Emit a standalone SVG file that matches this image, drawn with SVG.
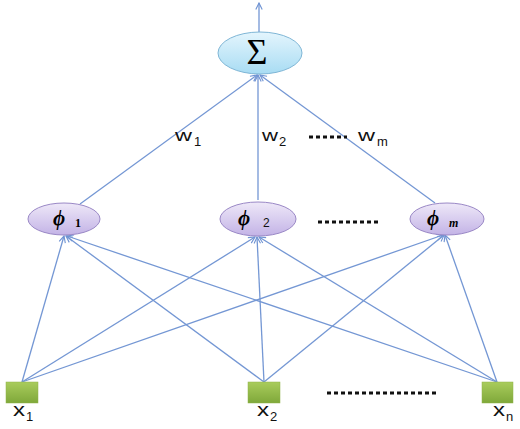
<svg xmlns="http://www.w3.org/2000/svg" width="520" height="429" viewBox="0 0 520 429">
<defs>
<linearGradient id="gSig" x1="0" y1="0" x2="0" y2="1">
<stop offset="0" stop-color="#e4f5fd"/><stop offset="1" stop-color="#a8dcf3"/>
</linearGradient>
<linearGradient id="gPhi" x1="0" y1="0" x2="0" y2="1">
<stop offset="0" stop-color="#eee8f8"/><stop offset="1" stop-color="#c3b3e6"/>
</linearGradient>
<linearGradient id="gBox" x1="0" y1="0" x2="0" y2="1">
<stop offset="0" stop-color="#a9cc5c"/><stop offset="1" stop-color="#7fa83a"/>
</linearGradient>
<marker id="arr" viewBox="0 0 10 10" refX="9" refY="5" markerWidth="8" markerHeight="8" orient="auto" markerUnits="userSpaceOnUse">
<path d="M1,1 L9,5 L1,9" fill="none" stroke="#6f93d3" stroke-width="1.4"/>
</marker>
<style>
.ln{stroke:#7497d4;stroke-width:1.3;fill:none;marker-end:url(#arr)}
.sig{fill:url(#gSig);stroke:#7fb6d6;stroke-width:1}
.phi{fill:url(#gPhi);stroke:#9a88c6;stroke-width:1}
.box{fill:url(#gBox);stroke:#8fb24a;stroke-width:0.5}
.t{font-family:"Liberation Sans",Arial,sans-serif;fill:#111}
.s{font-family:"Liberation Serif","DejaVu Serif",serif;fill:#000;font-size:12px;font-weight:bold}
.ph{font-family:"Liberation Serif","DejaVu Serif",serif;font-style:italic;font-weight:bold;font-size:21px;fill:#000}
.dots{stroke:#111;stroke-width:3;stroke-dasharray:4 3;fill:none}
</style>
</defs>
<g id="connectors">
<line class="ln" x1="259" y1="32" x2="259" y2="3"/>
<line class="ln" x1="80" y1="204" x2="257" y2="75"/>
<line class="ln" x1="258" y1="200" x2="258" y2="75"/>
<line class="ln" x1="435" y1="203" x2="260" y2="75"/>
<line class="ln" x1="22" y1="382" x2="64" y2="236"/>
<line class="ln" x1="22" y1="382" x2="255" y2="237"/>
<line class="ln" x1="22" y1="382" x2="443" y2="235"/>
<line class="ln" x1="264" y1="382" x2="66" y2="236"/>
<line class="ln" x1="264" y1="382" x2="257" y2="237"/>
<line class="ln" x1="264" y1="382" x2="444" y2="235"/>
<line class="ln" x1="497" y1="382" x2="67" y2="236"/>
<line class="ln" x1="497" y1="382" x2="259" y2="237"/>
<line class="ln" x1="497" y1="382" x2="445" y2="235"/>
</g>
<g id="sum">
<ellipse class="sig" cx="260" cy="53" rx="42" ry="21"/>
<text x="257" y="64" text-anchor="middle" font-family="Liberation Serif,serif" font-size="36" fill="#000">Σ</text>
</g>
<g id="phi1">
<ellipse class="phi" cx="64" cy="219" rx="36" ry="16"/>
<text class="ph" x="53" y="225">ϕ</text>
<text class="s" x="75" y="227">1</text>
</g>
<g id="phi2">
<ellipse class="phi" cx="258" cy="219" rx="38" ry="17"/>
<text class="ph" x="238" y="225">ϕ</text>
<text class="t" x="263" y="227" font-size="12" fill="#222">2</text>
</g>
<g id="phim">
<ellipse class="phi" cx="447" cy="219" rx="37" ry="16"/>
<text class="ph" x="427" y="225">ϕ</text>
<text class="s" x="449" y="227" font-style="italic">m</text>
</g>
<g id="x1">
<rect class="box" x="6" y="382" width="32" height="21"/>
<text class="t" x="13" y="416" font-size="18" textLength="12" lengthAdjust="spacingAndGlyphs">x</text>
<text class="t" x="26" y="421" font-size="13">1</text>
</g>
<g id="x2">
<rect class="box" x="248" y="382" width="32" height="21"/>
<text class="t" x="257" y="416" font-size="18" textLength="12" lengthAdjust="spacingAndGlyphs">x</text>
<text class="t" x="270" y="421" font-size="13">2</text>
</g>
<g id="xn">
<rect class="box" x="482" y="382" width="31" height="21"/>
<text class="t" x="493" y="416" font-size="18" textLength="12" lengthAdjust="spacingAndGlyphs">x</text>
<text class="t" x="506" y="421" font-size="13">n</text>
</g>
<g id="labels">
<text class="t" x="175" y="141" font-size="17" textLength="17" lengthAdjust="spacingAndGlyphs">w</text>
<text class="t" x="194" y="146" font-size="13">1</text>
<text class="t" x="262" y="141" font-size="17" textLength="16" lengthAdjust="spacingAndGlyphs">w</text>
<text class="t" x="279" y="146" font-size="13">2</text>
<line class="dots" x1="309" y1="137" x2="347" y2="137"/>
<text class="t" x="358" y="141" font-size="17" textLength="17" lengthAdjust="spacingAndGlyphs">w</text>
<text class="t" x="377" y="146" font-size="13">m</text>
<line class="dots" x1="318" y1="222" x2="378" y2="222"/>
<line class="dots" x1="327" y1="393" x2="438" y2="393"/>
</g>
</svg>
